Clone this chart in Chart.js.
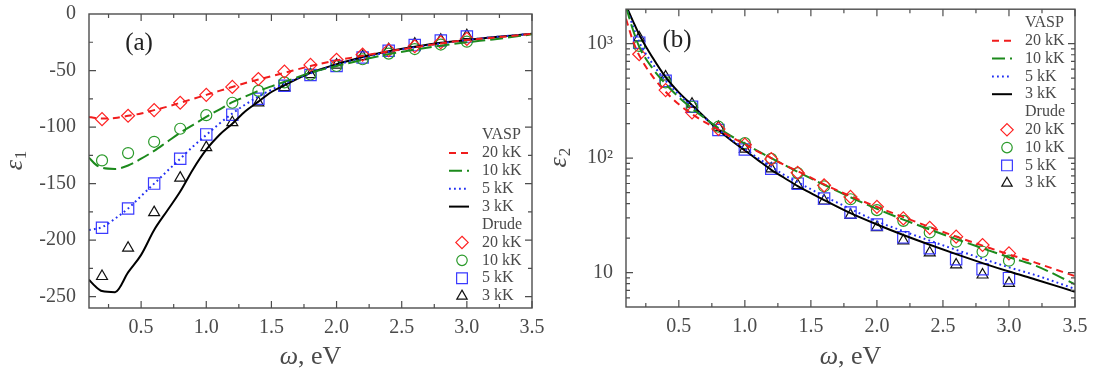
<!DOCTYPE html>
<html>
<head>
<meta charset="utf-8">
<script src="https://cdn.jsdelivr.net/npm/chart.js@4.4.0/dist/chart.umd.min.js"></script>
<style>
  body { margin: 0; background: #fff; width: 1093px; height: 376px; position: relative; overflow: hidden; }
  canvas { position: absolute; top: 0; }
  #ca { left: 0; }
  #cb { left: 545px; }
</style>
</head>
<body>
<canvas id="ca" width="545" height="376"></canvas>
<canvas id="cb" width="548" height="376"></canvas>
<script>
// photon energy, eV
const omegaVasp = [0.1, 0.15, 0.2, 0.3, 0.4, 0.5, 0.6, 0.7, 0.8, 0.9, 1.0, 1.1, 1.2, 1.3, 1.4, 1.5, 1.6, 1.8, 2.0, 2.2, 2.4, 2.6, 2.8, 3.0, 3.2, 3.5];
const omegaDrude = [0.2, 0.4, 0.6, 0.8, 1.0, 1.2, 1.4, 1.6, 1.8, 2.0, 2.2, 2.4, 2.6, 2.8, 3.0];

// (a) eps1, VASP curves
const eps1Vasp20 = [-91, -92, -92.5, -92, -90, -88, -85, -82, -78.5, -75, -71.5, -68, -64.5, -61, -58, -55, -52, -46, -41, -37, -33, -29.5, -26, -23, -21, -17.5];
const eps1Vasp10 = [-127, -133, -136, -137, -134, -128, -121, -113, -105, -98, -91, -84.5, -78, -73, -68, -64, -60, -52, -46, -40.5, -35.5, -31.5, -28, -25, -22.5, -18];
const eps1Vasp5 = [-191, -190, -188.5, -181, -172, -161, -150, -139, -128, -117, -107, -97, -88, -80, -73, -67, -61.5, -52.5, -45, -39, -33.5, -29.5, -26, -23, -20.5, -17.5];
const eps1Vasp3 = [-235, -241, -245, -246, -228.5, -213, -191, -174, -157, -137, -120, -107, -97, -86, -77.5, -69, -63, -52, -44.5, -38, -33, -29, -25.5, -23, -20.5, -17.5];
// (a) eps1, Drude points
const eps1Drude20 = [-93, -90, -85, -78.5, -71.5, -64.5, -57.5, -51, -45, -40.5, -36, -32, -28.5, -25, -22];
const eps1Drude10 = [-129.5, -123, -113, -101.5, -89.5, -78.5, -68, -60.5, -53.5, -46, -40, -35, -31, -27, -24.5];
const eps1Drude5 = [-189, -172, -150, -128, -106.5, -89, -75, -63.5, -54, -46, -38.5, -32.5, -27.5, -23.5, -20];
const eps1Drude3 = [-232, -207, -175.5, -145, -118, -96, -78.5, -65, -53.5, -45, -37.5, -31.5, -26.5, -23, -19];

// (b) eps2, VASP curves
const eps2Vasp20 = [1650, 1080, 790, 520, 380, 295, 242, 205, 177, 152, 132, 114, 100, 87, 77, 67.5, 59, 46.5, 37.5, 30.5, 25, 20.6, 17.2, 14.4, 12.2, 9.3];
const eps2Vasp10 = [2100, 1350, 940, 610, 445, 340, 272, 222, 183, 155, 134, 115, 100, 87, 76, 66.5, 58.5, 45.5, 36, 29, 23.8, 19.6, 16.3, 13.6, 11.5, 7.9];
const eps2Vasp5 = [2100, 1450, 1030, 670, 475, 360, 282, 222, 178, 145, 120, 100, 84, 71, 61.5, 53.5, 46.5, 36, 28, 23, 19, 15.8, 13.2, 11.1, 9.5, 7.2];
const eps2Vasp3 = [2150, 1600, 1200, 760, 510, 375, 290, 225, 176, 142, 117, 96, 79, 67, 57, 49.5, 43, 33, 26.3, 21.3, 17.5, 14.5, 12.1, 10.2, 8.7, 6.8];
// (b) eps2, Drude points
const eps2Drude20 = [808, 393, 251, 180, 131, 98, 74.5, 57.8, 45.8, 37.5, 29.7, 24.6, 20.6, 17.4, 14.7];
const eps2Drude10 = [955, 458, 281, 188, 135, 98.6, 74, 56.7, 43.7, 35.1, 28.3, 22.4, 18.6, 15.2, 12.7];
const eps2Drude5 = [1020, 473, 281, 176, 119, 80.7, 59.8, 44.3, 33.5, 26.3, 20.3, 16.3, 13.1, 10.7, 8.93];
const eps2Drude3 = [1128, 513, 297, 186, 120, 80.7, 57.8, 42.3, 31.7, 24.8, 19, 14.9, 11.7, 9.55, 8.07];

const tempLabels = ['20 kK', '10 kK', '5 kK', '3 kK'];
const xTicks = [0.5, 1.0, 1.5, 2.0, 2.5, 3.0, 3.5];
const eps1Ticks = [0, -50, -100, -150, -200, -250];
const eps2Ticks = [10, 100, 1000];
const eps2TickLabels = ['10', '10²', '10³'];

const SERIF = '"Liberation Serif", "DejaVu Serif", serif';
const TEXT = '#4a4a4a';
const lineColors = ['#f01c1c', '#1c8a1c', '#2230f2', '#000000'];
const markColors = ['#ff2222', '#2a9a2a', '#3a3aff', '#111111'];
const dashes = [[7, 5], [13, 5], [1.8, 3.2], []];
const markStyles = ['rectRot', 'circle', 'rect', 'triangle'];
const markRadius = [6.5, 5.5, 8, 6.3];

function vaspSet(ys, i) {
  return {
    label: tempLabels[i], kind: 'line',
    data: omegaVasp.map((x, k) => ({ x: x, y: ys[k] })),
    showLine: true, borderColor: lineColors[i], borderWidth: 2, borderDash: dashes[i],
    pointRadius: 0, cubicInterpolationMode: 'monotone', fill: false
  };
}
function drudeSet(ys, i) {
  return {
    label: tempLabels[i], kind: 'mark',
    data: omegaDrude.map((x, k) => ({ x: x, y: ys[k] })),
    showLine: false, pointStyle: markStyles[i], pointRadius: markRadius[i],
    pointBorderColor: markColors[i], pointBackgroundColor: 'rgba(0,0,0,0)', pointBorderWidth: 1.2
  };
}

function drawMark(ctx, style, r, x, y) {
  ctx.beginPath();
  if (style === 'circle') {
    ctx.arc(x, y, r, 0, Math.PI * 2);
  } else if (style === 'rect') {
    const h = r * Math.SQRT1_2;
    ctx.rect(x - h, y - h, 2 * h, 2 * h);
  } else if (style === 'rectRot') {
    ctx.moveTo(x, y - r); ctx.lineTo(x + r, y); ctx.lineTo(x, y + r); ctx.lineTo(x - r, y); ctx.closePath();
  } else {
    for (let k = 0; k < 3; k++) {
      const a = k * 2 * Math.PI / 3;
      const px = x + Math.sin(a) * r, py = y - Math.cos(a) * r;
      if (k === 0) ctx.moveTo(px, py); else ctx.lineTo(px, py);
    }
    ctx.closePath();
  }
  ctx.stroke();
}

// box, inward ticks on all sides, legend, titles
const decor = {
  id: 'decor',
  afterDraw(chart, args, o) {
    const ctx = chart.ctx, a = chart.chartArea;
    const xs = chart.scales.x, ys = chart.scales.y;
    ctx.save();
    ctx.strokeStyle = '#4d4d4d';
    ctx.lineWidth = 1.4;
    ctx.strokeRect(a.left, a.top, a.right - a.left, a.bottom - a.top);
    ctx.lineWidth = 1.2;
    const tick = (p, len, vert) => {
      ctx.beginPath();
      if (vert) {
        ctx.moveTo(p, a.bottom); ctx.lineTo(p, a.bottom - len);
        ctx.moveTo(p, a.top); ctx.lineTo(p, a.top + len);
      } else {
        ctx.moveTo(a.left, p); ctx.lineTo(a.left + len, p);
        ctx.moveTo(a.right, p); ctx.lineTo(a.right - len, p);
      }
      ctx.stroke();
    };
    for (let v = 0.25; v < 3.5; v += 0.5) tick(xs.getPixelForValue(v), 4, true);
    xTicks.forEach(v => tick(xs.getPixelForValue(v), 7, true));
    if (o.log) {
      [1, 10, 100, 1000].forEach(d => {
        for (let m = 2; m <= 9; m++) {
          const v = m * d;
          if (v > ys.min && v < ys.max) tick(ys.getPixelForValue(v), 4, false);
        }
      });
      eps2Ticks.forEach(v => tick(ys.getPixelForValue(v), 7, false));
    } else {
      for (let v = -25; v > ys.min; v -= 50) tick(ys.getPixelForValue(v), 4, false);
      eps1Ticks.forEach(v => { if (v < 0) tick(ys.getPixelForValue(v), 7, false); });
    }

    // legend
    const L = o.legend;
    ctx.font = '16px ' + SERIF;
    ctx.fillStyle = TEXT;
    ctx.textBaseline = 'middle';
    ctx.textAlign = 'left';
    const lines = chart.data.datasets.filter(d => d.kind === 'line');
    const marks = chart.data.datasets.filter(d => d.kind === 'mark');
    let row = 0;
    const rowY = () => L.y + row * L.step;
    ctx.fillText('VASP', L.x, rowY()); row++;
    lines.forEach(d => {
      const y = rowY();
      ctx.beginPath();
      ctx.strokeStyle = d.borderColor; ctx.lineWidth = d.borderWidth;
      ctx.setLineDash(d.borderDash);
      ctx.moveTo(L.x0, y); ctx.lineTo(L.x1, y); ctx.stroke();
      ctx.setLineDash([]);
      ctx.fillText(d.label, L.x, y); row++;
    });
    ctx.fillText('Drude', L.x, rowY()); row++;
    marks.forEach(d => {
      const y = rowY();
      ctx.strokeStyle = d.pointBorderColor; ctx.lineWidth = d.pointBorderWidth;
      drawMark(ctx, d.pointStyle, d.pointRadius * 0.95, L.xm, y);
      ctx.fillText(d.label, L.x, y); row++;
    });

    // panel tag
    ctx.fillStyle = '#222';
    ctx.textAlign = 'center';
    ctx.font = '25px ' + SERIF;
    ctx.fillText(o.tag, o.tagX, o.tagY);

    // x title: italic omega + ", eV"
    ctx.fillStyle = TEXT;
    const cx = (a.left + a.right) / 2;
    ctx.textAlign = 'left';
    ctx.font = 'italic 26px ' + SERIF;
    const w1 = ctx.measureText('ω').width;
    ctx.font = '26px ' + SERIF;
    const w2 = ctx.measureText(', eV').width;
    const sx = cx - (w1 + w2) / 2;
    ctx.font = 'italic 26px ' + SERIF;
    ctx.fillText('ω', sx, o.xTitleY);
    ctx.font = '26px ' + SERIF;
    ctx.fillText(', eV', sx + w1, o.xTitleY);

    // y title: italic epsilon with subscript, rotated
    ctx.translate(o.yTitleX, (a.top + a.bottom) / 2);
    ctx.rotate(-Math.PI / 2);
    ctx.font = 'italic 26px ' + SERIF;
    const we = ctx.measureText('ε').width;
    ctx.font = '17px ' + SERIF;
    const ws = ctx.measureText(o.sub).width;
    ctx.font = 'italic 26px ' + SERIF;
    ctx.fillText('ε', -(we + ws) / 2, -2);
    ctx.font = '17px ' + SERIF;
    ctx.fillText(o.sub, -(we + ws) / 2 + we + 1, 5);
    ctx.restore();
  }
};

function xScale(height) {
  return {
    type: 'linear', min: 0.1, max: 3.5,
    afterBuildTicks: s => { s.ticks = xTicks.map(v => ({ value: v })); },
    ticks: { callback: v => v.toFixed(1), font: { family: SERIF, size: 20 }, color: TEXT, padding: 8, maxRotation: 0, autoSkip: false },
    grid: { display: false, drawTicks: false }, border: { display: false },
    afterFit: s => { s.height = height; s.paddingLeft = 0; s.paddingRight = 0; }
  };
}

new Chart(document.getElementById('ca'), {
  type: 'scatter',
  data: {
    datasets: [
      vaspSet(eps1Vasp20, 0), vaspSet(eps1Vasp10, 1), vaspSet(eps1Vasp5, 2), vaspSet(eps1Vasp3, 3),
      drudeSet(eps1Drude20, 0), drudeSet(eps1Drude10, 1), drudeSet(eps1Drude5, 2), drudeSet(eps1Drude3, 3)
    ]
  },
  options: {
    responsive: false, animation: false, devicePixelRatio: 1,
    layout: { padding: { top: 14, right: 13, left: 0, bottom: 0 } },
    scales: {
      x: xScale(68),
      y: {
        type: 'linear', min: -260, max: 0,
        afterBuildTicks: s => { s.ticks = eps1Ticks.map(v => ({ value: v })); },
        ticks: { font: { family: SERIF, size: 20 }, color: TEXT, padding: 13 },
        grid: { display: false, drawTicks: false }, border: { display: false },
        afterFit: s => { s.width = 89; s.paddingTop = 0; s.paddingBottom = 0; }
      }
    },
    plugins: {
      legend: { display: false }, tooltip: { enabled: false },
      decor: {
        log: false, tag: '(a)', tagX: 139, tagY: 43, xTitleY: 357, yTitleX: 17, sub: '1',
        legend: { x: 482, y: 135, step: 17.9, x0: 449, x1: 469, xm: 462 }
      }
    }
  },
  plugins: [decor]
});

new Chart(document.getElementById('cb'), {
  type: 'scatter',
  data: {
    datasets: [
      vaspSet(eps2Vasp20, 0), vaspSet(eps2Vasp10, 1), vaspSet(eps2Vasp5, 2), vaspSet(eps2Vasp3, 3),
      drudeSet(eps2Drude20, 0), drudeSet(eps2Drude10, 1), drudeSet(eps2Drude5, 2), drudeSet(eps2Drude3, 3)
    ]
  },
  options: {
    responsive: false, animation: false, devicePixelRatio: 1,
    layout: { padding: { top: 7, right: 18, left: 0, bottom: 0 } },
    scales: {
      x: xScale(69),
      y: {
        type: 'logarithmic', min: 5, max: 2000,
        afterBuildTicks: s => { s.ticks = eps2Ticks.map(v => ({ value: v })); },
        ticks: { callback: (v) => eps2TickLabels[eps2Ticks.indexOf(v)], font: { family: SERIF, size: 20 }, color: TEXT, padding: 13 },
        grid: { display: false, drawTicks: false }, border: { display: false },
        afterFit: s => { s.width = 81; s.paddingTop = 0; s.paddingBottom = 0; }
      }
    },
    plugins: {
      legend: { display: false }, tooltip: { enabled: false },
      decor: {
        log: true, tag: '(b)', tagX: 132, tagY: 40, xTitleY: 357, yTitleX: 16, sub: '2',
        legend: { x: 480, y: 23, step: 17.8, x0: 447, x1: 467, xm: 462 }
      }
    }
  },
  plugins: [decor]
});
</script>
</body>
</html>
